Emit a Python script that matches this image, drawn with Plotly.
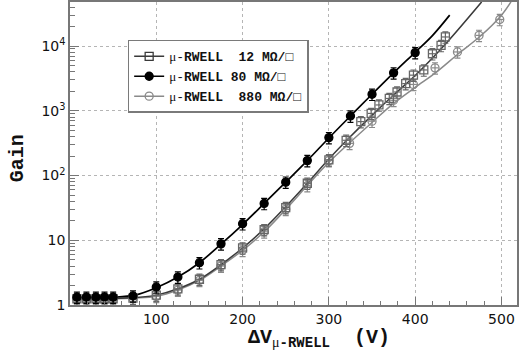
import plotly.graph_objects as go

# ---- data ----
v_80 = [8, 19, 30, 40, 50, 73, 100, 125, 150, 175, 200, 225, 250, 275, 300, 325, 350, 375, 400]
g_80 = [1.32, 1.32, 1.32, 1.32, 1.32, 1.38, 1.9, 2.7, 4.5, 8.8, 18, 37, 79, 170, 385, 830, 1800, 3850, 7900]

v_12 = [8, 19, 30, 40, 50, 73, 100, 125, 150, 175, 200, 225, 250, 275, 300, 320, 337, 349, 358, 370, 379, 389, 398, 410, 420, 430, 435]
g_12 = [1.25, 1.25, 1.25, 1.25, 1.25, 1.28, 1.42, 1.78, 2.5, 4.2, 7.6, 14.6, 32, 76, 175, 350, 680, 910, 1230, 1550, 1950, 2630, 3550, 4270, 7600, 10200, 13800]

v_880 = [8, 19, 30, 40, 50, 73, 100, 125, 150, 175, 200, 225, 250, 275, 300, 324, 350, 375, 398, 423, 449, 474, 498]
g_880 = [1.25, 1.25, 1.25, 1.25, 1.25, 1.27, 1.36, 1.7, 2.4, 4.0, 7.0, 13.5, 30, 70, 170, 314, 690, 1450, 2550, 4600, 8100, 14600, 25700]

# fit curves
fv_80 = [8, 50, 75, 100, 125, 150, 175, 200, 225, 250, 275, 300, 325, 350, 375, 400, 420, 440]
fg_80 = [1.3, 1.32, 1.42, 1.85, 2.7, 4.5, 8.7, 17.5, 37, 79, 170, 380, 830, 1800, 3850, 8000, 14500, 30000]

fv_12 = [8, 50, 75, 100, 125, 150, 175, 200, 225, 250, 275, 300, 325, 350, 375, 400, 433, 477]
fg_12 = [1.25, 1.26, 1.3, 1.42, 1.78, 2.5, 4.2, 7.6, 15, 33, 76, 180, 400, 850, 1750, 3500, 10000, 48000]

fv_880 = [8, 50, 75, 100, 125, 150, 175, 200, 225, 250, 275, 300, 325, 350, 375, 400, 425, 450, 475, 500, 511]
fg_880 = [1.25, 1.25, 1.28, 1.36, 1.7, 2.4, 4.0, 7.0, 13.5, 30, 70, 160, 330, 660, 1300, 2300, 4000, 7600, 14000, 30000, 48000]

x_ticks = [100, 200, 300, 400, 500]
y_ticks = [1, 10, 100, 1000, 10000]
y_ticktext = ["1", "10", "10<sup>2</sup>", "10<sup>3</sup>", "10<sup>4</sup>"]

MONO = "Liberation Mono, Courier New, monospace"
MU = '<span style="font-family:Liberation Serif;font-weight:normal">μ</span>'
labels = [MU + "-<b>RWELL\u00a0\u00a012\u00a0MΩ/□</b>",
          MU + "-<b>RWELL\u00a080\u00a0MΩ/□</b>",
          MU + "-<b>RWELL\u00a0\u00a0880\u00a0MΩ/□</b>"]

C12, C80, C880 = "#3a3a3a", "#000000", "#8a8a8a"

fig = go.Figure()

# fit lines
for fv, fg, c, w in [(fv_880, fg_880, C880, 1.5), (fv_12, fg_12, C12, 1.5), (fv_80, fg_80, C80, 1.7)]:
    fig.add_trace(go.Scatter(x=fv, y=fg, mode="lines", line=dict(color=c, width=w, shape="spline", smoothing=1),
                             showlegend=False, hoverinfo="skip"))

# data points
def pts(v, g, c, sym, size):
    return go.Scatter(x=v, y=g, mode="markers",
                      marker=dict(symbol=sym, size=size, color=c, line=dict(color=c, width=1.3)),
                      error_y=dict(type="percent", value=20, color=c, thickness=1.2, width=3),
                      error_x=dict(type="constant", value=4, color=c, thickness=1.2, width=0),
                      showlegend=False)

fig.add_trace(pts(v_880, g_880, C880, "circle-open", 8))
fig.add_trace(pts(v_12, g_12, "#666666", "square-open", 8))
fig.add_trace(pts(v_80, g_80, C80, "circle", 8))

# legend entries
for lab, c, sym in [(labels[0], C12, "square-open"), (labels[1], C80, "circle"), (labels[2], C880, "circle-open")]:
    fig.add_trace(go.Scatter(x=[None], y=[None], mode="lines+markers", name=lab,
                             line=dict(color=c, width=1.5),
                             marker=dict(symbol=sym, size=8, color=c, line=dict(color=c, width=1.3))))

fig.update_layout(
    width=519, height=358,
    margin=dict(l=70, r=1, t=0, b=53),
    paper_bgcolor="white", plot_bgcolor="white",
    font=dict(family="DejaVu Sans", size=14, color="#111"),
    legend=dict(x=0.129, y=0.875, xanchor="left", yanchor="top",
                bgcolor="white", bordercolor="#7a7a7a", borderwidth=1.5,
                font=dict(family=MONO, size=13, color="#111"),
                itemwidth=30, tracegroupgap=0),
    annotations=[
        dict(text="<b>Gain</b>", xref="paper", yref="paper", x=-0.118, y=0.485,
             textangle=-90, showarrow=False, font=dict(family=MONO, size=20, color="#111"),
             xanchor="center", yanchor="middle"),
        dict(text="<b>ΔV</b><sub>" + MU + "<b>-RWELL</b></sub>\u00a0\u00a0<b>(V)</b>",
             xref="paper", yref="paper", x=0.557, y=-0.11, showarrow=False,
             font=dict(family=MONO, size=20, color="#111"), xanchor="center", yanchor="middle"),
    ],
)

fig.update_xaxes(range=[0, 518], tickmode="array", tickvals=x_ticks,
                 ticks="inside", ticklen=8, tickcolor="#777", tickwidth=1,
                 showline=True, linecolor="#777", linewidth=1.5, mirror=True,
                 showgrid=True, gridcolor="#b5b5b5", griddash="dot", gridwidth=1,
                 minor=dict(dtick=20, tick0=0, ticks="inside", ticklen=4, tickcolor="#777", showgrid=False),
                 zeroline=False, tickfont=dict(family="DejaVu Sans", size=14))

fig.update_yaxes(type="log", range=[0, 4.68], tickmode="array", tickvals=y_ticks, ticktext=y_ticktext,
                 ticks="inside", ticklen=9, tickcolor="#777", tickwidth=1,
                 showline=True, linecolor="#777", linewidth=1.5, mirror=True,
                 showgrid=True, gridcolor="#b5b5b5", griddash="dot", gridwidth=1,
                 minor=dict(dtick="D1", ticks="inside", ticklen=5, tickcolor="#777", showgrid=False),
                 zeroline=False, tickfont=dict(family="DejaVu Sans", size=14))

fig.write_html("out.html")
